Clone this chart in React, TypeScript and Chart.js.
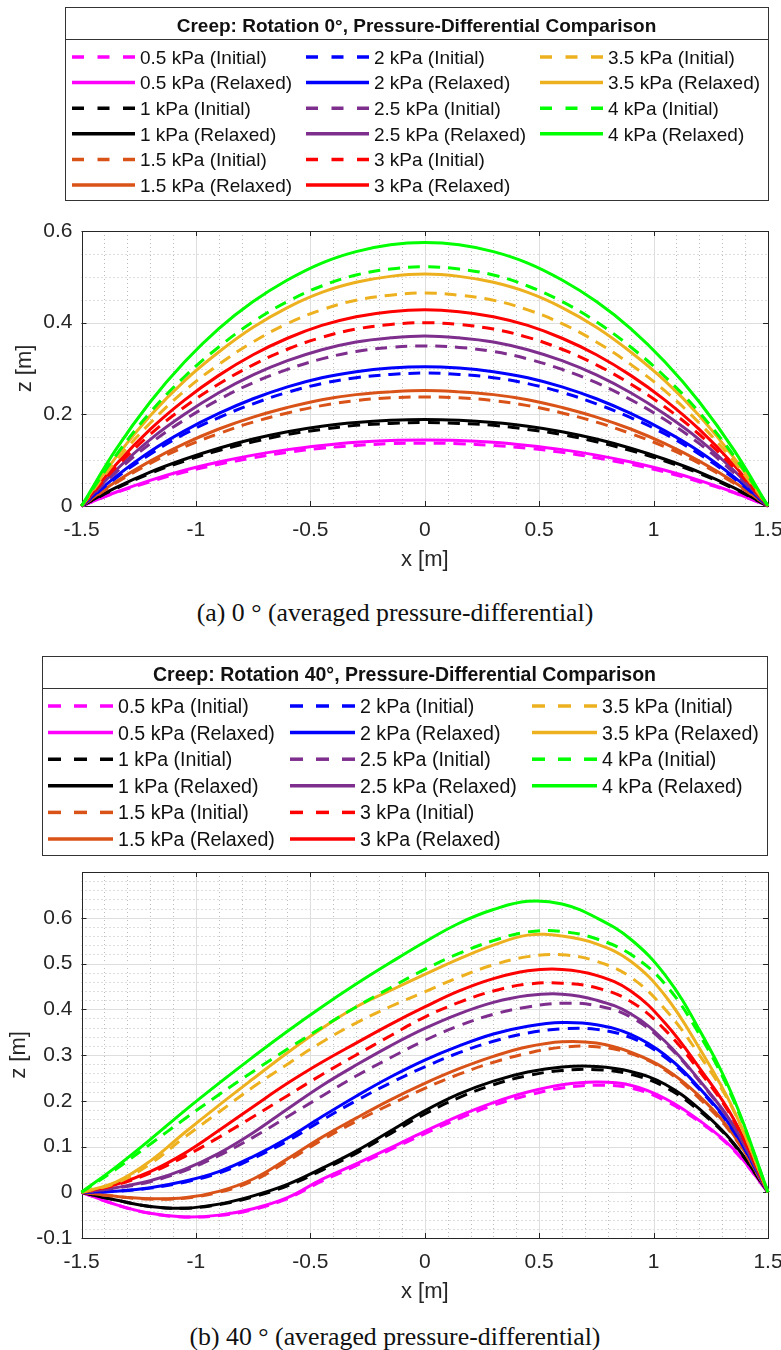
import React, { useEffect, useRef } from 'react';
import { Chart, registerables } from 'chart.js';

Chart.register(...registerables);

const FONT = '"Liberation Sans", Arial, Helvetica, sans-serif';

// ---------- shared data ----------
const xPositions = [-1.5, -1.35, -1.2, -1.05, -0.9, -0.75, -0.6, -0.45, -0.3, -0.15, 0, 0.15, 0.3, 0.45, 0.6, 0.75, 0.9, 1.05, 1.2, 1.35, 1.5];
const pressureLabels = ['0.5', '1', '1.5', '2', '2.5', '3', '3.5', '4'];
const seriesColors = ['#FF00FF', '#000000', '#D95319', '#0000FF', '#7E2F8E', '#FF0000', '#EDB120', '#00FF00'];

const xTickValues = [-1.5, -1, -0.5, 0, 0.5, 1, 1.5];
const yTickValuesA = [0, 0.2, 0.4, 0.6];
const yTickValuesB = [-0.1, 0, 0.1, 0.2, 0.3, 0.4, 0.5, 0.6];

// ---------- figure (a): rotation 0° ----------
const a05Initial = [0, 0.029, 0.053, 0.074, 0.091, 0.105, 0.117, 0.126, 0.132, 0.136, 0.137, 0.136, 0.132, 0.126, 0.117, 0.105, 0.091, 0.074, 0.053, 0.029, 0];
const a05Relaxed = [0, 0.030, 0.056, 0.078, 0.096, 0.111, 0.123, 0.132, 0.139, 0.143, 0.144, 0.143, 0.139, 0.132, 0.123, 0.111, 0.096, 0.078, 0.056, 0.030, 0];
const a1Initial = [0, 0.038, 0.071, 0.098, 0.121, 0.140, 0.156, 0.167, 0.176, 0.180, 0.182, 0.180, 0.176, 0.167, 0.156, 0.140, 0.121, 0.098, 0.071, 0.038, 0];
const a1Relaxed = [0, 0.040, 0.074, 0.102, 0.126, 0.146, 0.162, 0.174, 0.182, 0.187, 0.189, 0.187, 0.182, 0.174, 0.162, 0.146, 0.126, 0.102, 0.074, 0.040, 0];
const a15Initial = [0, 0.050, 0.093, 0.129, 0.158, 0.183, 0.203, 0.219, 0.230, 0.236, 0.238, 0.236, 0.230, 0.219, 0.203, 0.183, 0.158, 0.129, 0.093, 0.050, 0];
const a15Relaxed = [0, 0.053, 0.098, 0.136, 0.168, 0.194, 0.215, 0.232, 0.243, 0.249, 0.252, 0.249, 0.243, 0.232, 0.215, 0.194, 0.168, 0.136, 0.098, 0.053, 0];
const a2Initial = [0, 0.061, 0.113, 0.157, 0.193, 0.223, 0.248, 0.267, 0.280, 0.287, 0.290, 0.287, 0.280, 0.267, 0.248, 0.223, 0.193, 0.157, 0.113, 0.061, 0];
const a2Relaxed = [0, 0.064, 0.119, 0.164, 0.202, 0.234, 0.260, 0.280, 0.293, 0.301, 0.304, 0.301, 0.293, 0.280, 0.260, 0.234, 0.202, 0.164, 0.119, 0.064, 0];
const a25Initial = [0, 0.073, 0.136, 0.188, 0.232, 0.269, 0.298, 0.321, 0.337, 0.346, 0.349, 0.346, 0.337, 0.321, 0.298, 0.269, 0.232, 0.188, 0.136, 0.073, 0];
const a25Relaxed = [0, 0.078, 0.145, 0.200, 0.247, 0.286, 0.317, 0.341, 0.358, 0.367, 0.371, 0.367, 0.358, 0.341, 0.317, 0.286, 0.247, 0.200, 0.145, 0.078, 0];
const a3Initial = [0, 0.084, 0.156, 0.216, 0.266, 0.308, 0.342, 0.368, 0.386, 0.396, 0.400, 0.396, 0.386, 0.368, 0.342, 0.308, 0.266, 0.216, 0.156, 0.084, 0];
const a3Relaxed = [0, 0.090, 0.167, 0.231, 0.285, 0.330, 0.366, 0.394, 0.413, 0.424, 0.428, 0.424, 0.413, 0.394, 0.366, 0.330, 0.285, 0.231, 0.167, 0.090, 0];
const a35Initial = [0, 0.098, 0.181, 0.251, 0.309, 0.358, 0.398, 0.428, 0.449, 0.460, 0.465, 0.460, 0.449, 0.428, 0.398, 0.358, 0.309, 0.251, 0.181, 0.098, 0];
const a35Relaxed = [0, 0.106, 0.197, 0.273, 0.336, 0.390, 0.433, 0.466, 0.488, 0.501, 0.506, 0.501, 0.488, 0.466, 0.433, 0.390, 0.336, 0.273, 0.197, 0.106, 0];
const a4Initial = [0, 0.110, 0.204, 0.282, 0.347, 0.402, 0.446, 0.480, 0.504, 0.517, 0.522, 0.517, 0.504, 0.480, 0.446, 0.402, 0.347, 0.282, 0.204, 0.110, 0];
const a4Relaxed = [0, 0.123, 0.227, 0.314, 0.387, 0.446, 0.493, 0.530, 0.555, 0.570, 0.575, 0.570, 0.555, 0.530, 0.493, 0.446, 0.387, 0.314, 0.227, 0.123, 0];

// ---------- figure (b): rotation 40° ----------
const b05Initial = [0, -0.027, -0.046, -0.054, -0.051, -0.038, -0.014, 0.024, 0.058, 0.093, 0.128, 0.161, 0.190, 0.212, 0.228, 0.234, 0.228, 0.200, 0.154, 0.092, 0];
const b05Relaxed = [0, -0.027, -0.046, -0.054, -0.050, -0.036, -0.012, 0.028, 0.062, 0.097, 0.133, 0.167, 0.196, 0.219, 0.235, 0.241, 0.234, 0.205, 0.157, 0.094, 0];
const b1Initial = [0, -0.017, -0.031, -0.035, -0.027, -0.010, 0.014, 0.048, 0.085, 0.128, 0.171, 0.207, 0.235, 0.255, 0.266, 0.268, 0.258, 0.230, 0.178, 0.105, 0];
const b1Relaxed = [0, -0.017, -0.031, -0.035, -0.026, -0.008, 0.017, 0.052, 0.090, 0.134, 0.178, 0.215, 0.243, 0.263, 0.274, 0.275, 0.264, 0.236, 0.182, 0.107, 0];
const b15Initial = [0, -0.009, -0.015, -0.013, 0.000, 0.025, 0.068, 0.114, 0.155, 0.192, 0.227, 0.258, 0.284, 0.304, 0.317, 0.318, 0.303, 0.267, 0.205, 0.122, 0];
const b15Relaxed = [0, -0.009, -0.014, -0.012, 0.002, 0.029, 0.073, 0.120, 0.162, 0.202, 0.238, 0.270, 0.297, 0.318, 0.329, 0.326, 0.306, 0.270, 0.210, 0.125, 0];
const b2Initial = [0, 0.002, 0.009, 0.022, 0.042, 0.074, 0.112, 0.157, 0.200, 0.239, 0.274, 0.305, 0.330, 0.348, 0.357, 0.356, 0.338, 0.295, 0.225, 0.133, 0];
const b2Relaxed = [0, 0.002, 0.010, 0.024, 0.045, 0.078, 0.118, 0.165, 0.210, 0.252, 0.289, 0.320, 0.346, 0.363, 0.371, 0.366, 0.345, 0.300, 0.228, 0.135, 0];
const b25Initial = [0, 0.009, 0.023, 0.047, 0.080, 0.120, 0.165, 0.210, 0.254, 0.294, 0.332, 0.364, 0.389, 0.405, 0.413, 0.408, 0.383, 0.326, 0.243, 0.144, 0];
const b25Relaxed = [0, 0.010, 0.025, 0.050, 0.085, 0.130, 0.182, 0.233, 0.278, 0.320, 0.358, 0.390, 0.415, 0.430, 0.433, 0.420, 0.390, 0.330, 0.245, 0.145, 0];
const b3Initial = [0, 0.016, 0.042, 0.078, 0.120, 0.165, 0.211, 0.257, 0.300, 0.342, 0.383, 0.415, 0.440, 0.455, 0.457, 0.447, 0.417, 0.355, 0.265, 0.157, 0];
const b3Relaxed = [0, 0.017, 0.045, 0.085, 0.135, 0.187, 0.238, 0.284, 0.326, 0.367, 0.405, 0.440, 0.467, 0.484, 0.487, 0.474, 0.440, 0.370, 0.272, 0.160, 0];
const b35Initial = [0, 0.020, 0.062, 0.120, 0.175, 0.230, 0.280, 0.328, 0.370, 0.406, 0.438, 0.470, 0.497, 0.515, 0.519, 0.505, 0.470, 0.400, 0.300, 0.178, 0];
const b35Relaxed = [0, 0.022, 0.068, 0.130, 0.190, 0.248, 0.305, 0.358, 0.405, 0.441, 0.476, 0.510, 0.540, 0.562, 0.560, 0.543, 0.505, 0.430, 0.315, 0.180, 0];
const b4Initial = [0, 0.050, 0.105, 0.160, 0.213, 0.264, 0.313, 0.360, 0.405, 0.447, 0.487, 0.522, 0.550, 0.569, 0.570, 0.554, 0.520, 0.455, 0.345, 0.200, 0];
const b4Relaxed = [0, 0.055, 0.115, 0.178, 0.238, 0.296, 0.352, 0.405, 0.455, 0.502, 0.547, 0.588, 0.618, 0.636, 0.630, 0.600, 0.553, 0.475, 0.355, 0.205, 0];

const figAInitial = [a05Initial, a1Initial, a15Initial, a2Initial, a25Initial, a3Initial, a35Initial, a4Initial];
const figARelaxed = [a05Relaxed, a1Relaxed, a15Relaxed, a2Relaxed, a25Relaxed, a3Relaxed, a35Relaxed, a4Relaxed];
const figBInitial = [b05Initial, b1Initial, b15Initial, b2Initial, b25Initial, b3Initial, b35Initial, b4Initial];
const figBRelaxed = [b05Relaxed, b1Relaxed, b15Relaxed, b2Relaxed, b25Relaxed, b3Relaxed, b35Relaxed, b4Relaxed];

type LegendSpec = {
  x0: number; x1: number; y0: number; y1: number; sepY: number;
  title: string; titleX: number; titleBase: number; titleSize: number;
  rowY0: number; rowStep: number; colX: number[]; lineLen: number; textGap: number;
  textSize: number; dash: number[];
};

type FigSpec = {
  top: number; height: number; areaTop: number; xAxisH: number; yAxisW: number; rightPad: number;
  yMin: number; yMax: number; yTicks: number[]; xMinor: number; yMinor: number;
  xTickPad: number; xTitlePad: number; yTitlePad: number;
  initial: number[][]; relaxed: number[][];
  legend: LegendSpec;
};

const fmt = (v: number) => String(Number(Number(v).toFixed(3)));

function buildDatasets(initial: number[][], relaxed: number[][]) {
  const ds: any[] = [];
  pressureLabels.forEach((p, i) => {
    ds.push({
      label: `${p} kPa (Initial)`,
      data: xPositions.map((x, k) => ({ x, y: initial[i][k] })),
      borderColor: seriesColors[i],
      borderDash: [12, 8],
      borderWidth: 3,
    });
    ds.push({
      label: `${p} kPa (Relaxed)`,
      data: xPositions.map((x, k) => ({ x, y: relaxed[i][k] })),
      borderColor: seriesColors[i],
      borderDash: [],
      borderWidth: 3,
    });
  });
  ds.forEach((d, idx) => {
    d.order = -idx;
    d.pointRadius = 0;
    d.fill = false;
    d.tension = 0.4;
    d.cubicInterpolationMode = 'default';
    d.clip = false;
  });
  return ds;
}

function decorPlugin(spec: FigSpec) {
  return {
    id: 'matlabDecor',
    beforeDatasetsDraw(chart: any) {
      const { ctx, chartArea: a } = chart;
      const xs = chart.scales.x;
      const ys = chart.scales.y;
      ctx.save();
      const line = (x1: number, y1: number, x2: number, y2: number) => {
        ctx.beginPath(); ctx.moveTo(x1, y1); ctx.lineTo(x2, y2); ctx.stroke();
      };
      // minor grid (dotted)
      ctx.strokeStyle = '#bcbcbc';
      ctx.lineWidth = 1;
      ctx.setLineDash([1, 3]);
      const nx = Math.round((xs.max - xs.min) / spec.xMinor);
      for (let i = 1; i < nx; i++) {
        const px = Math.round(xs.getPixelForValue(xs.min + i * spec.xMinor)) + 0.5;
        line(px, a.top, px, a.bottom);
      }
      const ny = Math.round((ys.max - ys.min) / spec.yMinor);
      for (let i = 1; i < ny; i++) {
        const py = Math.round(ys.getPixelForValue(ys.min + i * spec.yMinor)) + 0.5;
        line(a.left, py, a.right, py);
      }
      // major grid
      ctx.setLineDash([]);
      ctx.strokeStyle = '#dedede';
      xs.ticks.forEach((t: any) => {
        const px = Math.round(xs.getPixelForValue(t.value)) + 0.5;
        if (px > a.left + 1 && px < a.right - 1) line(px, a.top, px, a.bottom);
      });
      ys.ticks.forEach((t: any) => {
        const py = Math.round(ys.getPixelForValue(t.value)) + 0.5;
        if (py > a.top + 1 && py < a.bottom - 1) line(a.left, py, a.right, py);
      });
      // box
      ctx.strokeStyle = '#262626';
      ctx.lineWidth = 1;
      ctx.strokeRect(Math.round(a.left) + 0.5, Math.round(a.top) + 0.5, Math.round(a.right) - Math.round(a.left), Math.round(a.bottom) - Math.round(a.top));
      // inward tick marks on all sides
      const tl = 5;
      xs.ticks.forEach((t: any) => {
        const px = Math.round(xs.getPixelForValue(t.value)) + 0.5;
        line(px, a.bottom, px, a.bottom - tl);
        line(px, a.top, px, a.top + tl);
      });
      ys.ticks.forEach((t: any) => {
        const py = Math.round(ys.getPixelForValue(t.value)) + 0.5;
        line(a.left, py, a.left + tl, py);
        line(a.right, py, a.right - tl, py);
      });
      ctx.restore();
    },
    afterDraw(chart: any) {
      const L = spec.legend;
      const { ctx } = chart;
      ctx.save();
      ctx.fillStyle = '#ffffff';
      ctx.fillRect(L.x0, L.y0, L.x1 - L.x0, L.y1 - L.y0);
      ctx.strokeStyle = '#333333';
      ctx.lineWidth = 1;
      ctx.setLineDash([]);
      ctx.strokeRect(L.x0 + 0.5, L.y0 + 0.5, L.x1 - L.x0, L.y1 - L.y0);
      ctx.beginPath();
      ctx.moveTo(L.x0, L.sepY + 0.5);
      ctx.lineTo(L.x1, L.sepY + 0.5);
      ctx.stroke();
      ctx.fillStyle = '#111111';
      ctx.font = `bold ${L.titleSize}px ${FONT}`;
      ctx.textAlign = 'center';
      ctx.textBaseline = 'alphabetic';
      ctx.fillText(L.title, L.titleX, L.titleBase);
      ctx.font = `${L.textSize}px ${FONT}`;
      ctx.textAlign = 'left';
      chart.data.datasets.forEach((ds: any, i: number) => {
        const col = Math.floor(i / 6);
        const row = i % 6;
        const yy = L.rowY0 + row * L.rowStep;
        const x0 = L.colX[col];
        ctx.strokeStyle = ds.borderColor;
        ctx.lineWidth = 3.5;
        ctx.setLineDash(ds.borderDash && ds.borderDash.length ? L.dash : []);
        ctx.beginPath();
        ctx.moveTo(x0, yy);
        ctx.lineTo(x0 + L.lineLen, yy);
        ctx.stroke();
        ctx.fillText(ds.label, x0 + L.lineLen + L.textGap, yy + 0.36 * L.textSize);
      });
      ctx.restore();
    },
  };
}

function buildConfig(spec: FigSpec): any {
  return {
    type: 'line',
    data: { datasets: buildDatasets(spec.initial, spec.relaxed) },
    options: {
      animation: false,
      responsive: false,
      devicePixelRatio: 1,
      layout: { padding: { top: spec.areaTop, right: 0, left: 0, bottom: 0 } },
      plugins: { legend: { display: false }, tooltip: { enabled: false }, title: { display: false } },
      scales: {
        x: {
          type: 'linear',
          min: -1.5,
          max: 1.5,
          afterBuildTicks: (s: any) => { s.ticks = xTickValues.map((v) => ({ value: v })); },
          afterFit: (s: any) => { s.height = spec.xAxisH; s.paddingRight = spec.rightPad; s.paddingLeft = 0; },
          grid: { display: false, drawTicks: false },
          border: { display: false },
          ticks: {
            padding: spec.xTickPad, color: '#262626', autoSkip: false, maxRotation: 0,
            font: { family: FONT, size: 21 }, callback: (v: any) => fmt(v),
          },
          title: {
            display: true, text: 'x [m]', color: '#262626',
            font: { family: FONT, size: 22 }, padding: { top: 0, bottom: spec.xTitlePad },
          },
        },
        y: {
          type: 'linear',
          min: spec.yMin,
          max: spec.yMax,
          afterBuildTicks: (s: any) => { s.ticks = spec.yTicks.map((v) => ({ value: v })); },
          afterFit: (s: any) => { s.width = spec.yAxisW; },
          grid: { display: false, drawTicks: false },
          border: { display: false },
          ticks: {
            padding: 9, color: '#262626', autoSkip: false,
            font: { family: FONT, size: 21 }, callback: (v: any) => fmt(v),
          },
          title: {
            display: true, text: 'z [m]', color: '#262626',
            font: { family: FONT, size: 22 }, padding: { top: spec.yTitlePad, bottom: 0 },
          },
        },
      },
    },
    plugins: [decorPlugin(spec)],
  };
}

const specA: FigSpec = {
  top: 0, height: 580, areaTop: 231, xAxisH: 74, yAxisW: 81.5, rightPad: 13,
  yMin: 0, yMax: 0.6, yTicks: yTickValuesA, xMinor: 0.1, yMinor: 0.05,
  xTickPad: 12, xTitlePad: 6.8, yTitlePad: 12,
  initial: figAInitial, relaxed: figARelaxed,
  legend: {
    x0: 65, x1: 768, y0: 7, y1: 200, sepY: 39,
    title: 'Creep: Rotation 0°, Pressure-Differential Comparison', titleX: 416.5, titleBase: 31.5, titleSize: 19,
    rowY0: 57, rowStep: 25.6, colX: [72, 306, 540], lineLen: 63, textGap: 5, textSize: 19, dash: [12, 13.5],
  },
};

const specB: FigSpec = {
  top: 645, height: 665, areaTop: 227, xAxisH: 72, yAxisW: 81.5, rightPad: 13,
  yMin: -0.1, yMax: 0.7, yTicks: yTickValuesB, xMinor: 0.1, yMinor: 0.02,
  xTickPad: 11.4, xTitlePad: 4.8, yTitlePad: 6,
  initial: figBInitial, relaxed: figBRelaxed,
  legend: {
    x0: 42, x1: 767, y0: 11, y1: 210, sepY: 43,
    title: 'Creep: Rotation 40°, Pressure-Differential Comparison', titleX: 404.5, titleBase: 36, titleSize: 19.5,
    rowY0: 61, rowStep: 26.6, colX: [48, 290, 532], lineLen: 65, textGap: 5, textSize: 19.6, dash: [13, 13],
  },
};

function Figure({ spec }: { spec: FigSpec }) {
  const ref = useRef<HTMLCanvasElement>(null);
  useEffect(() => {
    if (!ref.current) return;
    const chart = new Chart(ref.current, buildConfig(spec));
    return () => chart.destroy();
  }, [spec]);
  return (
    <canvas
      ref={ref}
      width={781}
      height={spec.height}
      style={{ position: 'absolute', left: 0, top: spec.top, width: 781, height: spec.height, display: 'block' }}
    />
  );
}

const captionStyle = (centerY: number): React.CSSProperties => ({
  position: 'absolute',
  left: 0,
  width: 790,
  top: centerY - 15,
  height: 30,
  lineHeight: '30px',
  textAlign: 'center',
  fontFamily: '"Liberation Serif", "DejaVu Serif", serif',
  fontSize: 25.8,
  color: '#111',
  whiteSpace: 'nowrap',
});

export default function App() {
  return (
    <div style={{ position: 'absolute', left: 0, top: 0, width: 781, height: 1350, background: '#ffffff', overflow: 'hidden' }}>
      <Figure spec={specA} />
      <div style={captionStyle(613)}>(a) 0 ° (averaged pressure-differential)</div>
      <Figure spec={specB} />
      <div style={captionStyle(1337)}>(b) 40 ° (averaged pressure-differential)</div>
    </div>
  );
}
